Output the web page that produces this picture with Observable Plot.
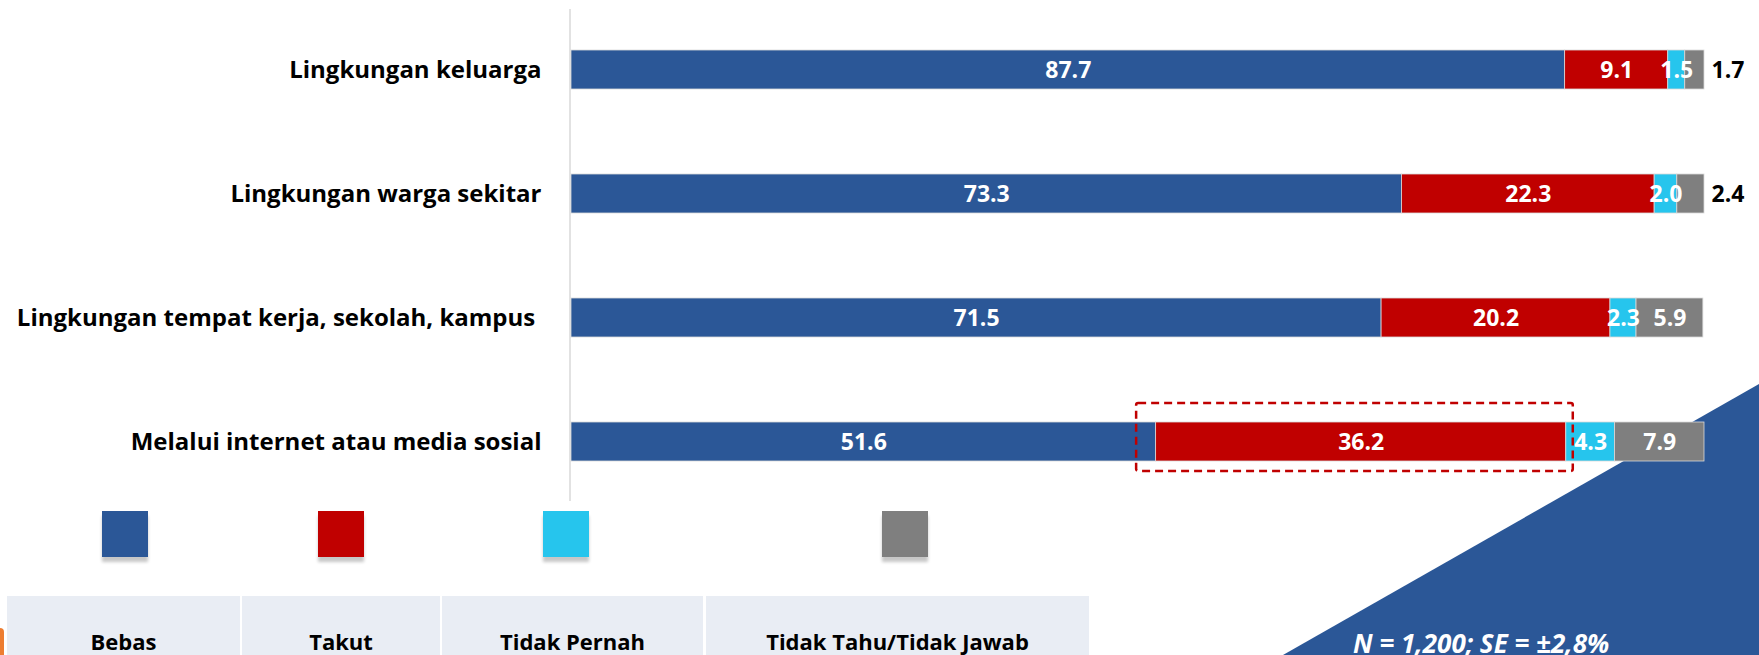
<!DOCTYPE html>
<html>
<head>
<meta charset="utf-8">
<script src="https://cdn.jsdelivr.net/npm/d3@7"></script>
<script src="https://cdn.jsdelivr.net/npm/@observablehq/plot@0.6"></script>
<style>
  html, body { margin: 0; padding: 0; background: white; overflow: hidden; }
  #page { position: relative; width: 1759px; height: 655px; overflow: hidden; font-family: "Open Sans", Lato, sans-serif; }
  #bg { position: absolute; left: 0; top: 0; z-index: 0; }
  #chart { position: absolute; left: 0; top: 0; z-index: 1; }
  .sw { position: absolute; width: 46px; height: 46px; top: 511px; box-shadow: 0 5px 3px rgba(0,0,0,0.22); z-index: 2; }
  .cell { position: absolute; top: 596px; height: 90px; background: #E9EDF4; display: flex; align-items: center; justify-content: center; font-weight: bold; font-size: 22px; color: #000; z-index: 2; }
  #tab { position: absolute; left: 0; top: 628px; width: 4px; height: 30px; background: #ED7D31; border-radius: 0 4px 0 0; z-index: 2; }
</style>
</head>
<body>
<div id="page">
  <svg id="bg" width="1759" height="655">
    <polygon points="1759,384 1283,655 1759,655" fill="#2B5797"></polygon>
    <text x="1353" y="653" fill="white" font-family="'Open Sans', Lato, sans-serif" font-weight="bold" font-style="italic" font-size="26">N = 1,200; SE = ±2,8%</text>
  </svg>
  <div id="chart"></div>
  <div id="legend"></div>
  <div id="tab"></div>
</div>
<script>
const categories = [
  "Lingkungan keluarga",
  "Lingkungan warga sekitar",
  "Lingkungan tempat kerja, sekolah, kampus ",
  "Melalui internet atau media sosial"
];
const seriesNames = ["Bebas", "Takut", "Tidak Pernah", "Tidak Tahu/Tidak Jawab"];
const seriesColors = ["#2B5797", "#C00000", "#26C5ED", "#7F7F7F"];
const bebas = [87.7, 73.3, 71.5, 51.6];
const takut = [9.1, 22.3, 20.2, 36.2];
const tidakPernah = [1.5, 2.0, 2.3, 4.3];
const tidakTahu = [1.7, 2.4, 5.9, 7.9];
const highlightCategory = categories[3];

const seriesValues = [bebas, takut, tidakPernah, tidakTahu];
const rows = [];
categories.forEach((c, i) => {
  seriesNames.forEach((s, j) => {
    rows.push({category: c, series: s, value: seriesValues[j][i]});
  });
});
const isOutside = d => d.series === seriesNames[3] && d.value < 3;

const hi = categories.indexOf(highlightCategory);
const highlight = [{category: highlightCategory, x1: bebas[hi], x2: bebas[hi] + takut[hi]}];

const chart = Plot.plot({
  width: 1759,
  height: 501,
  marginTop: 9,
  marginBottom: 0,
  marginLeft: 571,
  marginRight: 55,
  style: {background: "transparent", fontFamily: "'Open Sans', Lato, sans-serif", fontSize: "24px", fontWeight: "bold", color: "#000"},
  x: {domain: [0, 100], axis: null},
  y: {domain: categories, paddingInner: 0.686, paddingOuter: 0.321, tickSize: 0, tickPadding: 30, label: null},
  color: {domain: seriesNames, range: seriesColors},
  marks: [
    Plot.ruleX([0], {stroke: "#D9D9D9", strokeWidth: 1.5, dx: -1.5}),
    Plot.barX(rows, Plot.stackX({x: "value", y: "category", fill: "series", order: seriesNames, stroke: "#D9D9D9", strokeWidth: 0.8})),
    Plot.text(rows, Plot.stackX({x: "value", y: "category", z: "series", order: seriesNames,
      text: d => isOutside(d) ? "" : d.value.toFixed(1), fill: "white", fontSize: 23, fontWeight: "bold", dy: 1})),
    Plot.text(rows, Plot.stackX2({x: "value", y: "category", z: "series", order: seriesNames,
      text: d => isOutside(d) ? d.value.toFixed(1) : "", fill: "black", fontSize: 23, fontWeight: "bold", textAnchor: "start", dx: 7, dy: 1})),
    Plot.barX(highlight, {x1: "x1", x2: "x2", y: "category", fill: "none", stroke: "#C00000", strokeWidth: 2.5, strokeDasharray: "8,5",
      insetLeft: -19.5, insetRight: -7, insetTop: -19, insetBottom: -10, rx: 2})
  ]
});
document.getElementById("chart").appendChild(chart);

// Legend (HTML, below the chart)
const cells = [[7, 240], [242, 440], [442, 703], [706, 1089]];
const swatchCenters = [125, 341, 566, 905];
const legend = document.getElementById("legend");
seriesNames.forEach((s, i) => {
  const [a, b] = cells[i];
  const sw = document.createElement("div");
  sw.className = "sw";
  sw.style.left = (swatchCenters[i] - 23) + "px";
  sw.style.background = seriesColors[i];
  legend.appendChild(sw);
  const cell = document.createElement("div");
  cell.className = "cell";
  cell.style.left = a + "px";
  cell.style.width = (b - a) + "px";
  cell.textContent = s;
  legend.appendChild(cell);
});
</script>
</body>
</html>
